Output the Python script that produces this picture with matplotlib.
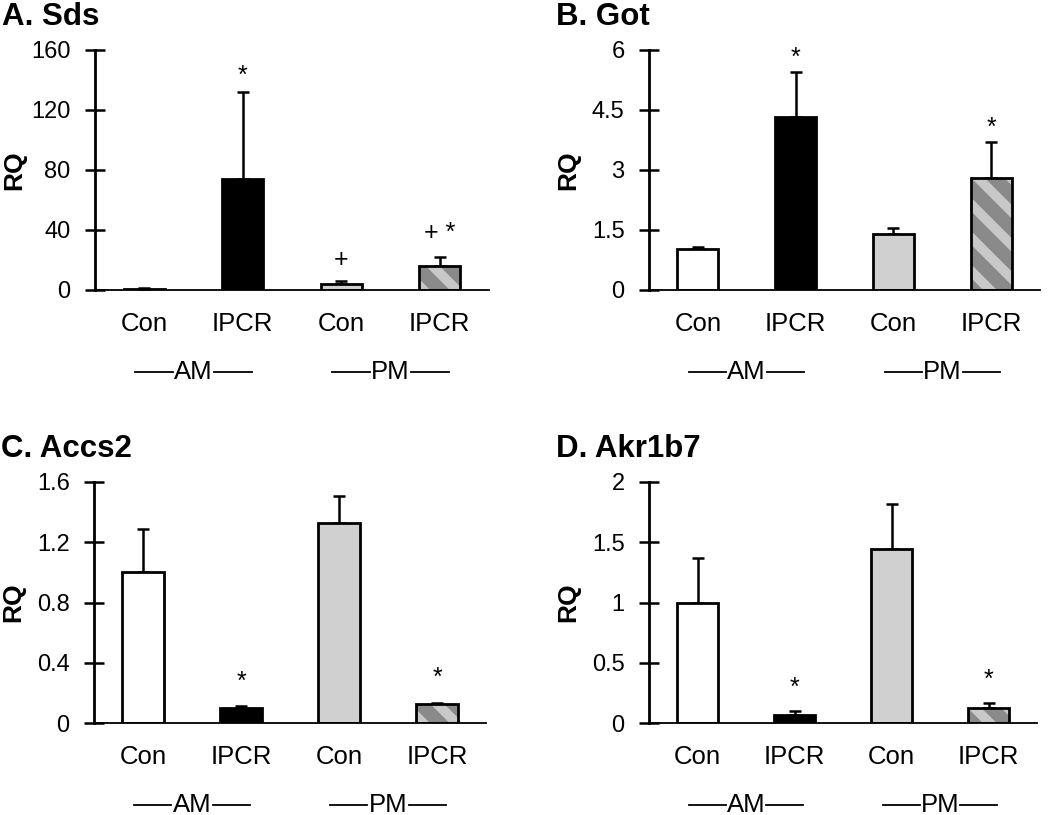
import matplotlib
matplotlib.use("Agg")
import matplotlib.pyplot as plt
import numpy as np

plt.rcParams['font.family'] = ['Liberation Sans', 'DejaVu Sans']
plt.rcParams['hatch.linewidth'] = 7.0

# ---------------- data ----------------
categories = ["Con", "IPCR", "Con", "IPCR"]
groups = ["AM", "PM"]
titles = ["A. Sds", "B. Got", "C. Accs2", "D. Akr1b7"]

sds_mean = [1.0, 74.0, 3.8, 16.2]
sds_err = [0.3, 58.0, 2.2, 5.6]
got_mean = [1.02, 4.33, 1.39, 2.79]
got_err = [0.05, 1.12, 0.17, 0.92]
accs2_mean = [1.0, 0.10, 1.33, 0.126]
accs2_err = [0.29, 0.01, 0.18, 0.009]
akr_mean = [1.0, 0.07, 1.44, 0.127]
akr_err = [0.366, 0.03, 0.38, 0.04]

sds_marks = ["", "*", "+", "+ *"]
got_marks = ["", "*", "", "*"]
accs2_marks = ["", "*", "", "*"]
akr_marks = ["", "*", "", "*"]

sds_ticks = [0, 40, 80, 120, 160]
got_ticks = [0, 1.5, 3, 4.5, 6]
accs2_ticks = [0, 0.4, 0.8, 1.2, 1.6]
akr_ticks = [0, 0.5, 1, 1.5, 2]
sds_ticklabels = ["0", "40", "80", "120", "160"]
got_ticklabels = ["0", "1.5", "3", "4.5", "6"]
accs2_ticklabels = ["0", "0.4", "0.8", "1.2", "1.6"]
akr_ticklabels = ["0", "0.5", "1", "1.5", "2"]

# ---------------- style ----------------
face_colors = ["white", "black", "#d0d0d0", "#8a8a8a"]
hatch_color = "#c8c8c8"

W, H = 1050, 815
fig = plt.figure(figsize=(W / 100, H / 100), dpi=100)

def px_axes(left, top, right, bottom):
    return fig.add_axes([left / W, 1 - bottom / H, (right - left) / W, (bottom - top) / H])

# offsets (points) of the significance marks above the error-bar tops
panels = [
    dict(ax=px_axes(95, 50, 489, 290), mean=sds_mean, err=sds_err, marks=sds_marks,
         ticks=sds_ticks, tl=sds_ticklabels, off=[0, 11.5, 15, 17.5]),
    dict(ax=px_axes(649, 50, 1040, 290), mean=got_mean, err=got_err, marks=got_marks,
         ticks=got_ticks, tl=got_ticklabels, off=[0, 10.2, 0, 10.2]),
    dict(ax=px_axes(94, 482, 486, 723), mean=accs2_mean, err=accs2_err, marks=accs2_marks,
         ticks=accs2_ticks, tl=accs2_ticklabels, off=[0, 18, 0, 18]),
    dict(ax=px_axes(649, 482, 1037, 723), mean=akr_mean, err=akr_err, marks=akr_marks,
         ticks=akr_ticks, tl=akr_ticklabels, off=[0, 16.4, 0, 16.4]),
]

x = np.arange(len(categories))
bw = 0.42
for i, p in enumerate(panels):
    ax = p['ax']
    mean = np.array(p['mean'])
    err = np.array(p['err'])
    ax.errorbar(x, mean, yerr=[np.zeros_like(err), err], fmt='none', ecolor='black',
                elinewidth=1.8, capsize=4.5, capthick=1.8, zorder=1)
    for j in range(len(x)):
        if j == 3:
            ax.bar(x[j], mean[j], width=bw, color=face_colors[j], hatch='\\',
                   edgecolor=hatch_color, linewidth=0, zorder=2)
        else:
            ax.bar(x[j], mean[j], width=bw, color=face_colors[j], linewidth=0, zorder=2)
    ax.bar(x, mean, width=bw, fill=False, edgecolor='black', linewidth=2.0, zorder=3)

    ymax = p['ticks'][-1]
    ax.set_ylim(0, ymax)
    ax.set_xlim(-0.5, 3.5)
    ax.set_yticks(p['ticks'])
    ax.set_yticklabels(p['tl'])
    ax.tick_params(axis='y', direction='inout', length=15, width=1.8, labelsize=17, pad=10)
    ax.set_xticks(x)
    ax.set_xticklabels(categories)
    ax.tick_params(axis='x', length=0, labelsize=18.5, pad=16)
    for s in ['top', 'right']:
        ax.spines[s].set_visible(False)
    ax.spines['left'].set_linewidth(2.0)
    ax.spines['bottom'].set_linewidth(1.3)
    ax.spines['left'].set_zorder(4)

    for j, m in enumerate(p['marks']):
        if m:
            ax.annotate(m, (x[j], mean[j] + err[j]), xytext=(0, p['off'][j]),
                        textcoords='offset points', ha='center', va='center', fontsize=18)

    tr = ax.get_xaxis_transform()
    for g, gname in enumerate(groups):
        c = x[2 * g:2 * g + 2].mean()
        ax.text(c, -0.34, gname, transform=tr, ha='center', va='center', fontsize=18.5)
        for side in (-1, 1):
            ax.plot([c + side * 0.21, c + side * 0.59], [-0.34, -0.34], transform=tr,
                    color='black', linewidth=1.3, clip_on=False)

    bb = ax.get_position()
    fig.text(bb.x0 - 81 / W, (bb.y0 + bb.y1) / 2, "RQ", rotation=90, ha='center',
             va='center', fontsize=19, fontweight='bold')
    fig.text(bb.x0 - 93 / W, bb.y1 + 33 / H, titles[i], ha='left', va='center',
             fontsize=22.5, fontweight='bold')

fig.savefig("out.png", dpi=100)
